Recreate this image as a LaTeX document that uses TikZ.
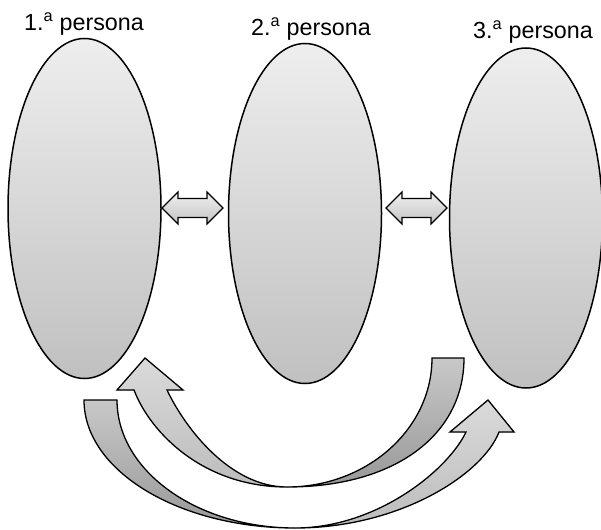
\documentclass[tikz,border=0pt]{standalone}
\usepackage{fontspec}
\setmainfont{Liberation Sans}
\usetikzlibrary{shapes.geometric}
\definecolor{elltop}{RGB}{238,238,238}
\definecolor{ellbot}{RGB}{192,192,192}
\definecolor{dbltop}{RGB}{240,240,240}
\definecolor{dblbot}{RGB}{195,195,195}
\definecolor{tailtop}{RGB}{200,200,200}
\definecolor{tailbot}{RGB}{152,152,152}
\definecolor{headtop}{RGB}{218,218,218}
\definecolor{headbot}{RGB}{188,188,188}
\tikzset{
  pellipse/.style={ellipse, draw=black, line width=1.5pt, top color=elltop, bottom color=ellbot,
    minimum width=153pt, minimum height=340pt, inner sep=0pt},
  plabel/.style={anchor=base, font=\fontsize{23.3}{27}\selectfont, inner sep=0pt},
  dblarrow/.style={draw=black, line width=1.3pt, top color=dbltop, bottom color=dblbot, line join=miter},
  tailpart/.style={top color=tailtop, bottom color=tailbot},
  headpart/.style={top color=headtop, bottom color=headbot},
  curvline/.style={draw=black, line width=1.3pt, line join=miter}
}
\begin{document}
\begin{tikzpicture}[x=1pt,y=-1pt]
\useasboundingbox (0,0) rectangle (601,529);
% ellipses
\node[pellipse] (e1) at (84.5,208.5) {};
\node[pellipse] (e2) at (305,213.5) {};
\node[pellipse] (e3) at (526,218) {};
% labels
\node[plabel] (l1) at (84,31) {1.\textsuperscript{a} persona};
\node[plabel] (l2) at (311,36) {2.\textsuperscript{a} persona};
\node[plabel] (l3) at (533,39) {3.\textsuperscript{a} persona};
% double arrows
\path[dblarrow] (162,208) -- (178,192) -- (178,198.5) -- (207,198.5) -- (207,192) -- (223,208)
  -- (207,224) -- (207,217.5) -- (178,217.5) -- (178,224) -- cycle;
\path[dblarrow] (386,208) -- (402,192) -- (402,198.5) -- (431,198.5) -- (431,192) -- (447,208)
  -- (431,224) -- (431,217.5) -- (402,217.5) -- (402,224) -- cycle;
% curved arrow A (back to the 1st)
\fill[tailpart] (432,358) -- (464,358) .. controls (464,435) and (395,487) .. (287,487)
  .. controls (367,487) and (432,429) .. (432,358) -- cycle;
\fill[headpart] (287,487) .. controls (202.5,487) and (150,432) .. (134,390) -- (117,390)
  -- (145,358) -- (183,390) -- (167,390) .. controls (185,428) and (230,487) .. (287,487) -- cycle;
\path[curvline] (432,358) -- (464,358) .. controls (464,435) and (395,487) .. (287,487)
  .. controls (202.5,487) and (150,432) .. (134,390) -- (117,390)
  -- (145,358) -- (183,390) -- (167,390) .. controls (185,428) and (230,487) .. (287,487)
  .. controls (367,487) and (432,429) .. (432,358) -- cycle;
% curved arrow B (from the 1st to the 3rd)
\fill[tailpart] (84,400) -- (117,400) .. controls (117,470.7) and (196.7,528) .. (295,528)
  .. controls (178.5,528) and (84,470.7) .. (84,400) -- cycle;
\fill[headpart] (295,528) .. controls (400,528) and (483,474) .. (499,432) -- (514,432)
  -- (488,400) -- (450,432) -- (466,432) .. controls (448,470) and (377,528) .. (295,528) -- cycle;
\path[curvline] (84,400) -- (117,400) .. controls (117,470.7) and (196.7,528) .. (295,528)
  .. controls (400,528) and (483,474) .. (499,432) -- (514,432)
  -- (488,400) -- (450,432) -- (466,432) .. controls (448,470) and (377,528) .. (295,528)
  .. controls (178.5,528) and (84,470.7) .. (84,400) -- cycle;
\end{tikzpicture}
\end{document}
